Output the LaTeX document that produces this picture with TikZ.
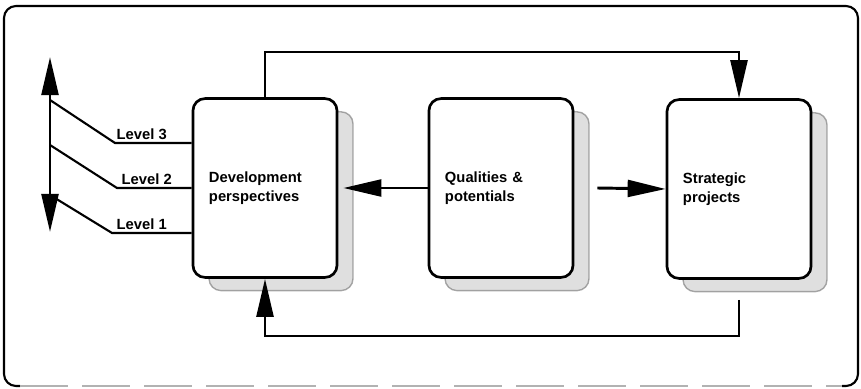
\documentclass[tikz,border=0pt]{standalone}
\usepackage{fontspec}
\setmainfont{Liberation Sans}
\usepackage{tikz}
\usetikzlibrary{arrows.meta}
\usetikzlibrary{positioning}
\usetikzlibrary{shadows}
\usetikzlibrary{calc}

\begin{document}
\begin{tikzpicture}[x=0.025cm,y=-0.025cm,>={Triangle[length=0.95cm,width=0.42cm]},
  block/.style={draw,line width=1.9pt,rounded corners=0.3cm,fill=white,
    text width=2.8cm,inner xsep=0.4cm,minimum height=4.47cm,align=left,
    font=\fontsize{10.5}{13.5}\selectfont\bfseries,
    drop shadow={shadow xshift=0.4cm,shadow yshift=-0.33cm,fill=black!25,draw=black!65,line width=1pt}},
  flow/.style={line width=2.1pt,->},
  link/.style={line width=1.5pt},
  lvl/.style={font=\fontsize{10.5}{13}\selectfont\bfseries,inner sep=1pt,anchor=south west}]
  \useasboundingbox (0,0) rectangle (861,388);
  \draw[line width=1.5pt,rounded corners=0.3cm] (20,386) -- (4,386) -- (4,6) -- (858,6) -- (858,386) -- (842,386);
  \draw[black!30,line width=0.8pt,dash pattern=on 1.2cm off 0.35cm] (20,386) -- (842,386);

  \node[block] (dev) at (265,188) {Development\\perspectives};
  \node[block] (qual) at (501,188) {Qualities \&\\potentials};
  \node[block] (strat) at (739,189) {Strategic\\projects};

  \coordinate (over) at (500,52);
  \coordinate (under) at (500,336);
  \coordinate (back) at ($(strat.south)+(0,20)$);
  \coordinate (devside) at ($(dev.east)+(5,0)$);
  \coordinate (qualside) at ($(qual.east)+(23,0)$);

  \draw[flow] (dev.north) |- (over) -| (strat.north);
  \draw[flow] (back) |- (under) -| (dev.south);
  \draw[flow] (qual.west) -- (devside);
  \draw[flow] (qualside) -- (strat.west);

  \coordinate (up) at (50,57);
  \coordinate (down) at (50,232);
  \draw[line width=2.1pt,<->] (down) -- (up);

  \coordinate (l3) at (50,100);
  \coordinate (l2) at (50,145);
  \coordinate (l1) at (50,195);
  \coordinate (k3) at (115,143);
  \coordinate (k2) at (117,188);
  \coordinate (k1) at (112,233);
  \draw[link] (l3) -- (k3) -- (k3 -| dev.west);
  \draw[link] (l2) -- (k2) -- (k2 -| dev.west);
  \draw[link] (l1) -- (k1) -- (k1 -| dev.west);
  \node[lvl] (t3) at ($(k3)+(0,-2)$) {Level 3};
  \node[lvl] (t2) at ($(k2)+(3,-2)$) {Level 2};
  \node[lvl] (t1) at ($(k1)+(3,-2)$) {Level 1};
\end{tikzpicture}
\end{document}
